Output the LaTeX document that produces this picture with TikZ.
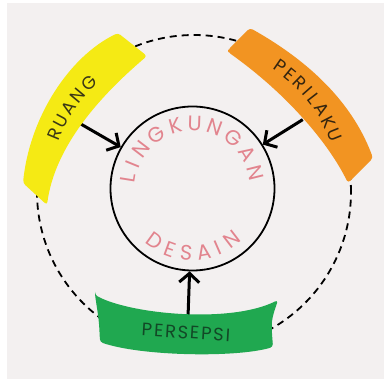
\documentclass[tikz,border=0pt]{standalone}
\usepackage{fontspec}
\newfontfamily\ringfont{Poppins}
\usetikzlibrary{arrows.meta, calc}
\definecolor{canvas}{HTML}{F3F0F0}
\definecolor{ruangyellow}{HTML}{F5EA14}
\definecolor{perilakuorange}{HTML}{F29422}
\definecolor{persepsigreen}{HTML}{20A850}
\definecolor{innerpink}{HTML}{E2848E}
\definecolor{ruangink}{HTML}{3A3716}
\definecolor{perilakuink}{HTML}{35250F}
\definecolor{persepsiink}{HTML}{124826}

\begin{document}
\begin{tikzpicture}[x=1pt, y=1pt,
    inflow/.style={line width=3pt, -{Straight Barb[length=9pt, width=20pt]}},
    bandletter/.style={inner sep=0pt, font=\ringfont\fontsize{18pt}{18pt}\selectfont},
    innerletter/.style={inner sep=0pt, text=innerpink, font=\ringfont\fontsize{21pt}{21pt}\selectfont}]
  \useasboundingbox (0,0) rectangle (386,386);
  % Background
  \fill[canvas] (7,7) rectangle (384,383);
  % Outer dashed ring
  \coordinate (ring) at (194,194);
  \draw[line width=1.8pt, dash pattern=on 7pt off 5pt] (ring) circle[radius=157pt];
  % Inner circle
  \node[circle, draw, line width=1.8pt, minimum size=164pt, inner sep=0pt] (env) at (192.5,197.5) {};
  % Arrows into the inner circle
  \coordinate (ruangfoot) at ($(env.center)+(150:130)$);
  \coordinate (perilakufoot) at ($(env.center)+(32:130)$);
  \coordinate (persepsifoot) at ($(env.center)+(268:130)$);
  \draw[inflow] (ruangfoot) -- (env.150);
  \draw[inflow] (perilakufoot) -- (env.32);
  \draw[inflow] (persepsifoot) -- (env.268);
  % Bands
  \fill[ruangyellow, rounded corners=3pt] (23,203) .. controls (30,270) and (70,330) .. (118,353)
    -- (147,330) .. controls (100,290) and (55,240) .. (47,181) -- cycle;
  \fill[perilakuorange, rounded corners=3pt] (228,336) -- (250,358) .. controls (300,330) and (350,290) .. (373,228)
    -- (348,203) .. controls (330,240) and (290,290) .. (228,334) -- cycle;
  \fill[persepsigreen, rounded corners=3pt] (95,91) .. controls (130,72) and (230,62) .. (278,86)
    .. controls (271,65) .. (273,39) .. controls (235,28) and (140,30) .. (100,44)
    .. controls (99,65) .. cycle;
  % Band labels
  \foreach \ch/\a [count=\i] in {R/157.5, U/151.9, A/146.1, N/140.2, G/134.0}
    \node[bandletter, text=ruangink, rotate=\a-90] (ruang\i) at ($(ring)+(\a:151)$) {\ch};
  \foreach \ch/\a [count=\i] in {P/55.5, E/50.6, R/45.7, I/41.5, L/37.75, A/32.8, K/27.4, U/22.0}
    \node[bandletter, text=perilakuink, rotate=\a-90] (perilaku\i) at ($(ring)+(\a:152)$) {\ch};
  \coordinate (persepsistart) at (147,56);
  \foreach \ch/\d [count=\i] in {P/0, E/11.9, R/23.85, S/36.05, E/47.65, P/59.55, S/71.65, I/81.2}
    \node[bandletter, text=persepsiink, rotate=-3.5] (persepsi\i) at ($(persepsistart)+(-3.5:\d)$) {\ch};
  % Inner labels
  \foreach \ch/\a [count=\i] in {L/171, I/157.8, N/142.6, G/123.7, K/105.5, U/88.0, N/69.7, G/50.8, A/32.3, N/14.0}
    \node[innerletter, rotate=\a-90] (lingkungan\i) at ($(env.center)+(\a:65)$) {\ch};
  \foreach \ch/\a [count=\i] in {D/234, E/249.8, S/264.4, A/280.1, I/293.6, N/307.5}
    \node[innerletter, rotate=\a+90] (desain\i) at ($(env.center)+(\a:64.5)$) {\ch};
\end{tikzpicture}
\end{document}
